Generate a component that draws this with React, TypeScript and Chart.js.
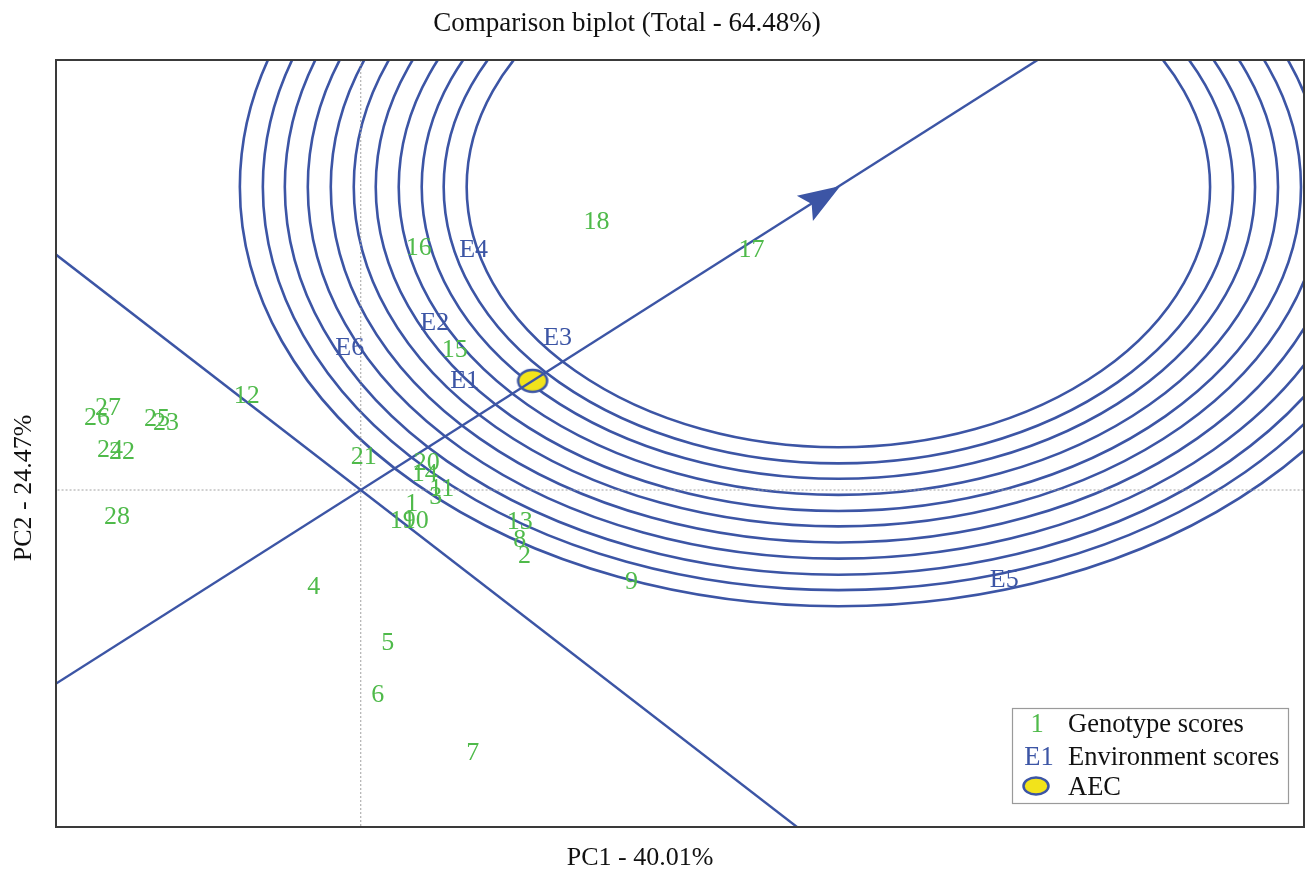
import React, { useEffect, useRef } from "react";
import { Chart, registerables } from "chart.js";

Chart.register(...registerables);

// ---------- data ----------
const genotypeLabels = [
  "1", "2", "3", "4", "5", "6", "7", "8", "9", "10",
  "11", "12", "13", "14", "15", "16", "17", "18", "19", "20",
  "21", "22", "23", "24", "25", "26", "27", "28",
];
const genotypePC1 = [
  0.51, 1.64, 0.75, -0.47, 0.27, 0.17, 1.12, 1.59, 2.71, 0.55,
  0.81, -1.14, 1.59, 0.64, 0.94, 0.58, 3.91, 2.36, 0.42, 0.66,
  0.03, -2.39, -1.95, -2.51, -2.04, -2.64, -2.53, -2.44,
];
const genotypePC2 = [
  -0.2, -0.94, -0.1, -1.39, -2.19, -2.93, -3.76, -0.71, -1.31, -0.44,
  0.01, 1.34, -0.46, 0.23, 2.0, 3.46, 3.43, 3.83, -0.44, 0.39,
  0.47, 0.54, 0.96, 0.57, 1.01, 1.03, 1.17, -0.39,
];
const environmentLabels = ["E1", "E2", "E3", "E4", "E5", "E6"];
const environmentPC1 = [1.04, 0.74, 1.97, 1.13, 6.44, -0.11];
const environmentPC2 = [1.55, 2.39, 2.17, 3.43, -1.29, 2.03];
const aecPC1 = [1.72];
const aecPC2 = [1.56];
const idealPoint = [4.78, 4.33];
const ringRadii = [3.72, 3.95, 4.17, 4.4, 4.63, 4.85, 5.08, 5.31, 5.54, 5.76, 5.99];

const chartTitle = "Comparison biplot (Total - 64.48%)";
const xTitle = "PC1 - 40.01%";
const yTitle = "PC2 - 24.47%";
const legendItems = ["Genotype scores", "Environment scores", "AEC"];

// ---------- styles ----------
const BLUE = "#3c55a5";
const GREEN = "#4fba4a";
const YELLOW = "#f2e31b";
const FAMILY = '"Liberation Serif", "Times New Roman", serif';
const FONT = `26px ${FAMILY}`;
const TITLE_FONT = `27px ${FAMILY}`;
const LEGEND_FONT = `26.5px ${FAMILY}`;

function makeAecIcon(): HTMLCanvasElement {
  const c = document.createElement("canvas");
  c.width = 34;
  c.height = 28;
  const g = c.getContext("2d")!;
  g.beginPath();
  g.ellipse(17, 14, 14.5, 11, 0, 0, Math.PI * 2);
  g.fillStyle = YELLOW;
  g.fill();
  g.lineWidth = 2.5;
  g.strokeStyle = BLUE;
  g.stroke();
  return c;
}

const biplotPlugin = {
  id: "biplotDecor",
  beforeDatasetsDraw(chart: any) {
    const { ctx, chartArea: a, scales } = chart;
    const x = scales.x, y = scales.y;
    ctx.save();
    ctx.beginPath();
    ctx.rect(a.left, a.top, a.right - a.left, a.bottom - a.top);
    ctx.clip();
    const cx = x.getPixelForValue(idealPoint[0]);
    const cy = y.getPixelForValue(idealPoint[1]);
    ctx.strokeStyle = BLUE;
    ctx.lineWidth = 2.6;
    ringRadii.forEach((r) => {
      const rx = x.getPixelForValue(idealPoint[0] + r) - cx;
      const ry = cy - y.getPixelForValue(idealPoint[1] + r);
      ctx.beginPath();
      ctx.ellipse(cx, cy, rx, ry, 0, 0, Math.PI * 2);
      ctx.stroke();
    });
    ctx.restore();
  },
  afterDatasetsDraw(chart: any) {
    const { ctx, chartArea: a, scales } = chart;
    const x = scales.x, y = scales.y;
    ctx.save();
    ctx.beginPath();
    ctx.rect(a.left, a.top, a.right - a.left, a.bottom - a.top);
    ctx.clip();
    // arrow head at the ideal point, along the AEC abscissa
    const ox = x.getPixelForValue(0), oy = y.getPixelForValue(0);
    const tx = x.getPixelForValue(idealPoint[0]) + 2, ty = y.getPixelForValue(idealPoint[1]) - 1;
    const len = Math.hypot(tx - ox, ty - oy);
    const ux = (tx - ox) / len, uy = (ty - oy) / len;
    const nx = -uy, ny = ux;
    const back = 42, half = 15, notch = 8;
    ctx.beginPath();
    ctx.moveTo(tx, ty);
    ctx.lineTo(tx - ux * back + nx * half, ty - uy * back + ny * half);
    ctx.lineTo(tx - ux * (back - notch), ty - uy * (back - notch));
    ctx.lineTo(tx - ux * back - nx * half, ty - uy * back - ny * half);
    ctx.closePath();
    ctx.fillStyle = BLUE;
    ctx.fill();

    ctx.font = FONT;
    ctx.textAlign = "center";
    ctx.textBaseline = "middle";
    ctx.fillStyle = GREEN;
    genotypeLabels.forEach((lab, i) => {
      ctx.fillText(lab, x.getPixelForValue(genotypePC1[i]), y.getPixelForValue(genotypePC2[i]));
    });
    ctx.fillStyle = BLUE;
    environmentLabels.forEach((lab, i) => {
      ctx.fillText(lab, x.getPixelForValue(environmentPC1[i]), y.getPixelForValue(environmentPC2[i]));
    });
    ctx.restore();
  },
  afterDraw(chart: any) {
    const { ctx, chartArea: a } = chart;
    ctx.save();
    // frame
    ctx.strokeStyle = "#3a3a3a";
    ctx.lineWidth = 2;
    ctx.strokeRect(a.left, a.top, a.right - a.left, a.bottom - a.top);

    // titles
    ctx.fillStyle = "#111";
    ctx.textAlign = "center";
    ctx.textBaseline = "middle";
    ctx.font = TITLE_FONT;
    ctx.fillText(chartTitle, 627, 24);
    ctx.font = FONT;
    ctx.fillText(xTitle, 640, 858);
    ctx.save();
    ctx.translate(24, 488);
    ctx.rotate(-Math.PI / 2);
    ctx.fillText(yTitle, 0, 0);
    ctx.restore();

    // legend
    const lx = 1012.5, ly = 708.5, lw = 276, lh = 95;
    ctx.fillStyle = "#fff";
    ctx.fillRect(lx, ly, lw, lh);
    ctx.strokeStyle = "#9a9a9a";
    ctx.lineWidth = 1.2;
    ctx.strokeRect(lx, ly, lw, lh);
    const rows = [725, 758, 788];
    ctx.font = LEGEND_FONT;
    ctx.textAlign = "center";
    ctx.fillStyle = GREEN;
    ctx.fillText(genotypeLabels[0], 1037, rows[0]);
    ctx.fillStyle = BLUE;
    ctx.fillText(environmentLabels[0], 1039, rows[1]);
    ctx.beginPath();
    ctx.ellipse(1036, rows[2] - 2, 12.5, 8.5, 0, 0, Math.PI * 2);
    ctx.fillStyle = YELLOW;
    ctx.fill();
    ctx.lineWidth = 2.5;
    ctx.strokeStyle = BLUE;
    ctx.stroke();
    ctx.textAlign = "left";
    ctx.fillStyle = "#111";
    legendItems.forEach((t, i) => ctx.fillText(t, 1068, rows[i]));
    ctx.restore();
  },
};

export default function App() {
  const ref = useRef<HTMLCanvasElement | null>(null);

  useEffect(() => {
    if (!ref.current) return;
    const aecIcon = makeAecIcon();
    const aPt = { x: aecPC1[0], y: aecPC2[0] };
    const chart = new Chart(ref.current, {
      type: "scatter",
      data: {
        datasets: [
          {
            label: "AEC abscissa",
            data: [
              { x: aPt.x * -3, y: aPt.y * -3 },
              { x: aPt.x * 7, y: aPt.y * 7 },
            ],
            showLine: true,
            borderColor: BLUE,
            borderWidth: 2.4,
            pointRadius: 0,
          },
          {
            label: "AEC ordinate",
            data: [
              { x: aPt.y * -3, y: aPt.x * 3 },
              { x: aPt.y * 3, y: aPt.x * -3 },
            ],
            showLine: true,
            borderColor: BLUE,
            borderWidth: 2.4,
            pointRadius: 0,
          },
          {
            label: "PC1 zero",
            data: [
              { x: 0, y: -10 },
              { x: 0, y: 10 },
            ],
            showLine: true,
            borderColor: "#a0a0a0",
            borderWidth: 1,
            borderDash: [2, 2],
            pointRadius: 0,
          },
          {
            label: "PC2 zero",
            data: [
              { x: -10, y: 0 },
              { x: 20, y: 0 },
            ],
            showLine: true,
            borderColor: "#a0a0a0",
            borderWidth: 1,
            borderDash: [2, 2],
            pointRadius: 0,
          },
          {
            label: "AEC",
            data: [aPt],
            pointStyle: aecIcon as any,
            pointRadius: 5,
          },
          {
            label: "Genotype scores",
            data: genotypePC1.map((v, i) => ({ x: v, y: genotypePC2[i] })),
            pointRadius: 0,
          },
          {
            label: "Environment scores",
            data: environmentPC1.map((v, i) => ({ x: v, y: environmentPC2[i] })),
            pointRadius: 0,
          },
        ],
      },
      options: {
        animation: false,
        responsive: false,
        events: [],
        layout: { padding: { left: 56, top: 60, right: 5, bottom: 44 } },
        plugins: { legend: { display: false }, tooltip: { enabled: false }, title: { display: false } },
        scales: {
          x: { type: "linear", min: -3.05, max: 9.44, display: false },
          y: { type: "linear", min: -4.814, max: 6.143, display: false },
        },
      },
      plugins: [biplotPlugin],
    });
    return () => chart.destroy();
  }, []);

  return (
    <div style={{ position: "absolute", left: 0, top: 0, width: 1310, height: 871, background: "#fff" }}>
      <canvas ref={ref} width={1310} height={871} style={{ display: "block" }} />
    </div>
  );
}
